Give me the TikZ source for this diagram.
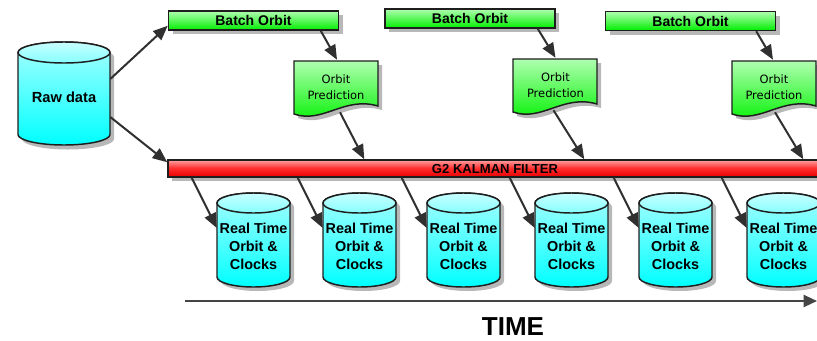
\documentclass[tikz,border=0pt]{standalone}
\usepackage{fontspec}
\setmainfont{Liberation Sans}
\newfontfamily\dejavu{DejaVu Sans}
\usetikzlibrary{arrows.meta,calc,shadows}
\definecolor{outl}{HTML}{1E1E1E}
\definecolor{arrc}{HTML}{303030}
\definecolor{shad}{HTML}{B8B8B8}
\definecolor{cyanT}{HTML}{C8FFFF}
\definecolor{cyanM}{HTML}{A8FFFF}
\definecolor{cyanB}{HTML}{00FFFF}
\definecolor{greenT}{HTML}{B0FFB0}
\definecolor{greenB}{HTML}{00EE00}
\definecolor{redT}{HTML}{FFA0A0}
\definecolor{redM}{HTML}{FF2A2A}
\definecolor{redB}{HTML}{E60000}
\tikzset{
  outline/.style={draw=outl, line width=1.1pt},
  arr/.style={draw=arrc, line width=1.5pt, -{Triangle[length=11pt,width=9pt]}},
  timearr/.style={draw=arrc!90!white, line width=1.6pt, -{Triangle[length=10pt,width=9pt]}},
  boxshadow/.style={drop shadow={shadow xshift=3pt, shadow yshift=-3pt, fill=shad, opacity=1}},
  batchbox/.style={outline, top color=greenT, bottom color=greenB, boxshadow,
    minimum width=127.5pt, minimum height=14.25pt, inner sep=0pt,
    font=\bfseries\fontsize{10.5}{12}\selectfont},
  kalman/.style={outline, top color=redT, bottom color=redB, middle color=redM, boxshadow,
    minimum width=490.5pt, minimum height=12.75pt, inner sep=0pt,
    font=\bfseries\fontsize{9.8}{11}\selectfont},
  doctext/.style={inner sep=0pt, minimum width=63pt, minimum height=39.75pt, align=center,
    font=\dejavu\fontsize{8.6}{12}\selectfont},
  cyltext/.style={inner sep=0pt, minimum width=54.75pt, minimum height=70.5pt, align=center,
    font=\bfseries\fontsize{10.8}{13.5}\selectfont},
  rawtext/.style={inner sep=0pt, minimum width=69pt, minimum height=77pt, align=center,
    font=\bfseries\fontsize{11}{13}\selectfont},
  timetext/.style={inner sep=0pt, font=\bfseries\fontsize{19.5}{22}\selectfont},
  shadowfill/.style={fill=shad},
  cylbody/.style={outline, top color=cyanM, bottom color=cyanB},
  cyltop/.style={outline, top color=cyanT, bottom color=cyanM!80!cyanB},
  docbody/.style={outline, top color=greenT, bottom color=greenB!80!green},
}
\begin{document}
\begin{tikzpicture}[x=0.75pt, y=-0.75pt]
\useasboundingbox (0,0) rectangle (817,340);
\fill[white] (0,0) rectangle (817,340);

% ---- Raw data cylinder ----
\fill[shadowfill] (22,57) -- (22,139) arc[start angle=180,end angle=0,x radius=46,y radius=10.5]
   -- (114,57) arc[start angle=0,end angle=-180,x radius=46,y radius=10.5] -- cycle;
\path[cylbody] (18,52.5) -- (18,134.5) arc[start angle=180,end angle=0,x radius=46,y radius=10.5]
   -- (110,52.5) arc[start angle=0,end angle=-180,x radius=46,y radius=10.5] -- cycle;
\path[cyltop] (64,52.5) ellipse[x radius=46, y radius=10.5];
\node[rawtext] (raw) at (64,97) {Raw data};

% ---- Batch Orbit boxes ----
\node[batchbox] (b1) at (253.5,20.5) {Batch Orbit};
\node[batchbox] (b2) at (470,18.5) {Batch Orbit};
\node[batchbox] (b3) at (690.5,21) {Batch Orbit};

% ---- Orbit Prediction documents ----
\foreach \x/\y in {294/61, 513/59, 732/61} {
  \fill[shadowfill] (\x+4,\y+4) -- (\x+88,\y+4) -- (\x+88,\y+49)
     .. controls (\x+54,\y+39) and (\x+33,\y+67) .. (\x+4,\y+57) -- cycle;
  \path[docbody] (\x,\y) -- (\x+84,\y) -- (\x+84,\y+45)
     .. controls (\x+50,\y+35) and (\x+29,\y+63) .. (\x,\y+53) -- cycle;
}
\node[doctext] (op1) at (336,87.5) {Orbit\\Prediction};
\node[doctext] (op2) at (555.5,85.5) {Orbit\\Prediction};
\node[doctext] (op3) at (774,87.5) {Orbit\\Prediction};

% ---- Kalman filter bar ----
\node[kalman] (kf) at (495,168.5) {G2 KALMAN FILTER};

% ---- Real time cylinders ----
\foreach \l in {217,323,427,535,639,747} {
  \fill[shadowfill] (\l+4,207) -- (\l+4,281) arc[start angle=180,end angle=0,x radius=36.5,y radius=10]
     -- (\l+77,207) arc[start angle=0,end angle=-180,x radius=36.5,y radius=10] -- cycle;
  \path[cylbody] (\l,203) -- (\l,277) arc[start angle=180,end angle=0,x radius=36.5,y radius=10]
     -- (\l+73,203) arc[start angle=0,end angle=-180,x radius=36.5,y radius=10] -- cycle;
  \path[cyltop] (\l+36.5,203) ellipse[x radius=36.5, y radius=10];
}
\node[cyltext] (rt1) at (253.5,246) {Real Time\\Orbit \&\\Clocks};
\node[cyltext] (rt2) at (359.5,246) {Real Time\\Orbit \&\\Clocks};
\node[cyltext] (rt3) at (463.5,246) {Real Time\\Orbit \&\\Clocks};
\node[cyltext] (rt4) at (571.5,246) {Real Time\\Orbit \&\\Clocks};
\node[cyltext] (rt5) at (675.5,246) {Real Time\\Orbit \&\\Clocks};
\node[cyltext] (rt6) at (783.5,246) {Real Time\\Orbit \&\\Clocks};

% ---- connectors ----
\draw[arr] ($(raw.east)+(0,-18)$) -- ($(b1.south west)+(0,-5)$);
\draw[arr] ($(raw.east)+(0,20)$) -- ($(kf.north west)+(0,3)$);

\draw[arr] ($(b1.south east)+(-18.5,0)$) -- ($(op1.north)+(1,-1)$);
\draw[arr] ($(b2.south east)+(-18,0)$) -- ($(op2.north)+(0,-1)$);
\draw[arr] ($(b3.south east)+(-20,0)$) -- ($(op3.north)+(-1,-1)$);

\draw[arr] ($(op1.south)+(4,-2)$) -- ($(kf.north west)+(197,0)$);
\draw[arr] ($(op2.south)+(-2,-2)$) -- ($(kf.north west)+(417,0)$);
\draw[arr] ($(op3.south)+(1,-2)$) -- ($(kf.north west)+(636,0)$);

\foreach \n in {1,...,6} {
  \draw[arr] ($(rt\n.west |- kf.south)+(-25,0)$) -- ($(rt\n.west)+(0,-18)$);
}

% ---- time axis ----
\coordinate (t0) at (185,301);
\coordinate (t1) at (817,301);
\draw[timearr] (t0) -- (t1);
\node[timetext] (time) at (513,327) {TIME};
\end{tikzpicture}
\end{document}
